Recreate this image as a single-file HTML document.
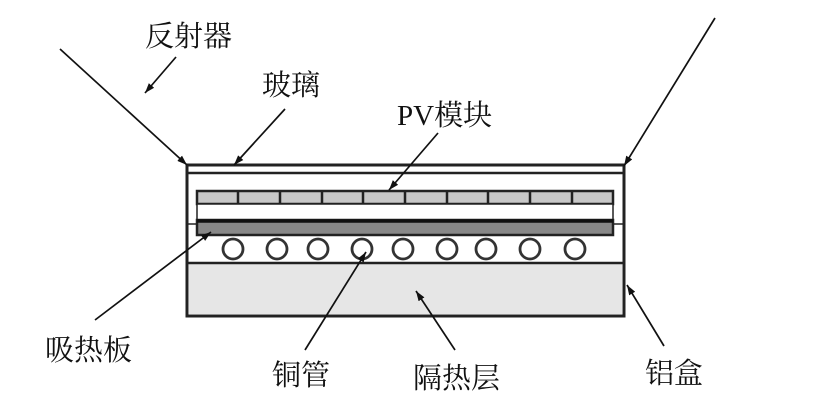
<!DOCTYPE html>
<html><head><meta charset="utf-8"><style>
html,body{margin:0;padding:0;background:#fff;}
svg{display:block}
text{font-family:"Liberation Serif","Noto Serif CJK SC","Noto Sans CJK SC",serif;font-size:29px;fill:#111}
</style></head><body>
<svg width="827" height="404" viewBox="0 0 827 404" xmlns="http://www.w3.org/2000/svg">
<defs>
<marker id="a" viewBox="0 0 10 10" refX="10" refY="5" markerWidth="10" markerHeight="10" orient="auto-start-reverse" markerUnits="userSpaceOnUse">
<path d="M0,1.5 L10,5 L0,8.5 z" fill="#111"/></marker>
</defs>
<rect x="187" y="165" width="437" height="151" fill="#fff" stroke="#222" stroke-width="3"/>
<line x1="187" y1="173" x2="624" y2="173" stroke="#222" stroke-width="2.5"/>
<rect x="189" y="263" width="433" height="51" fill="#e6e6e6"/>
<line x1="187" y1="263" x2="624" y2="263" stroke="#222" stroke-width="2.5"/>
<line x1="187" y1="224" x2="624" y2="224" stroke="#222" stroke-width="1.5"/>
<rect x="197" y="191" width="416" height="13" fill="#c8c8c8" stroke="#222" stroke-width="2.5"/>
<g stroke="#222" stroke-width="2.5">
<line x1="238" y1="191" x2="238" y2="204"/><line x1="280" y1="191" x2="280" y2="204"/>
<line x1="322" y1="191" x2="322" y2="204"/><line x1="363" y1="191" x2="363" y2="204"/>
<line x1="405" y1="191" x2="405" y2="204"/><line x1="447" y1="191" x2="447" y2="204"/>
<line x1="488" y1="191" x2="488" y2="204"/><line x1="530" y1="191" x2="530" y2="204"/>
<line x1="572" y1="191" x2="572" y2="204"/>
</g>
<rect x="197" y="204" width="416" height="16" fill="#fff" stroke="#222" stroke-width="1.5"/>
<rect x="197" y="220" width="416" height="15" fill="#888" stroke="#222" stroke-width="2.5"/>
<line x1="197" y1="221" x2="613" y2="221" stroke="#111" stroke-width="3.5"/>
<g fill="#fff" stroke="#333" stroke-width="2.8">
<circle cx="233" cy="249" r="10"/><circle cx="277" cy="249" r="10"/><circle cx="318" cy="249" r="10"/>
<circle cx="362" cy="249" r="10"/><circle cx="403" cy="249" r="10"/><circle cx="447" cy="249" r="10"/>
<circle cx="486" cy="249" r="10"/><circle cx="530" cy="249" r="10"/><circle cx="575" cy="249" r="10"/>
</g>
<g stroke="#111" stroke-width="1.7" marker-end="url(#a)">
<line x1="60" y1="49" x2="187" y2="165"/>
<line x1="715" y1="18" x2="624" y2="166"/>
<line x1="176" y1="57" x2="145" y2="93"/>
<line x1="285" y1="109" x2="234" y2="165"/>
<line x1="438" y1="133" x2="389" y2="190"/>
<line x1="95" y1="320" x2="211" y2="232"/>
<line x1="305" y1="350" x2="366" y2="252"/>
<line x1="455" y1="350" x2="416" y2="291"/>
<line x1="664" y1="346" x2="627" y2="285"/>
</g>
<text x="145" y="46">反射器</text>
<text x="262" y="95">玻璃</text>
<text x="397" y="125">PV模块</text>
<text x="45" y="360">吸热板</text>
<text x="272" y="385">铜管</text>
<text x="413" y="388">隔热层</text>
<text x="645" y="383">铝盒</text>
</svg>
</body></html>
